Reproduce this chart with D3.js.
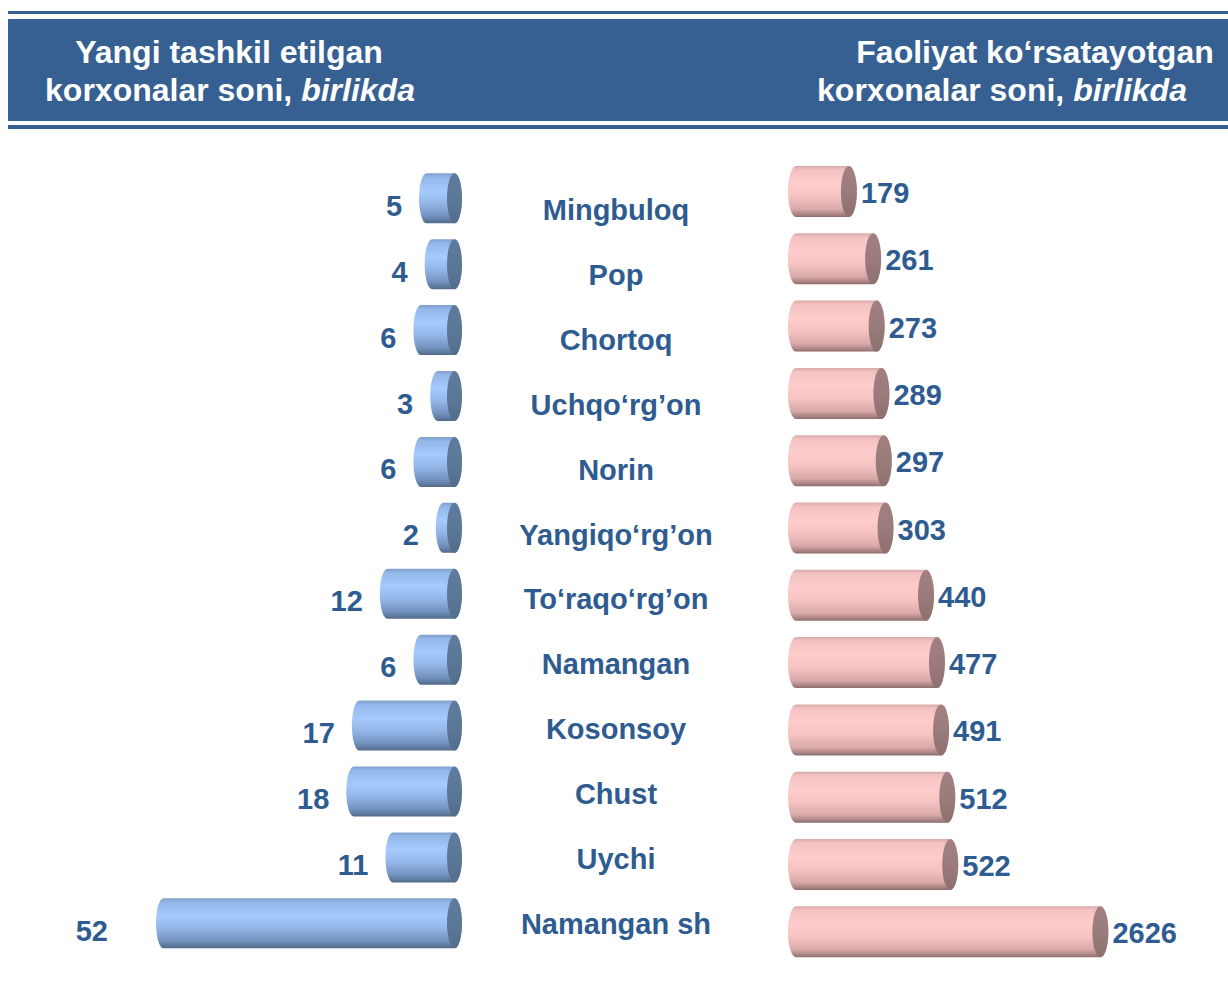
<!DOCTYPE html>
<html>
<head>
<meta charset="utf-8">
<script src="https://cdn.jsdelivr.net/npm/d3@7"></script>
<style>
  html, body { margin: 0; padding: 0; background: #ffffff; }
  svg { display: block; font-family: "Liberation Sans", Arial, sans-serif; }
</style>
</head>
<body>
<svg id="chart" width="1228" height="988"></svg>
<script>
// Districts of Namangan region
const districts = ["Mingbuloq", "Pop", "Chortoq", "Uchqo‘rg’on", "Norin", "Yangiqo‘rg’on",
  "To‘raqo‘rg’on", "Namangan", "Kosonsoy", "Chust", "Uychi", "Namangan sh"];
// Newly established enterprises, units
const newEnterprises = [5, 4, 6, 3, 6, 2, 12, 6, 17, 18, 11, 52];
// Operating enterprises, units
const activeEnterprises = [179, 261, 273, 289, 297, 303, 440, 477, 491, 512, 522, 2626];
// Header titles: line 1, plain part of line 2, italic part of line 2
const leftTitle = ["Yangi tashkil etilgan", "korxonalar soni, ", "birlikda"];
const rightTitle = ["Faoliyat ko‘rsatayotgan", "korxonalar soni, ", "birlikda"];

const svg = d3.select("#chart");
const W = 1228;
const navy = "#366092";
const labelColor = "#2F5C90";

// ---------- header band ----------
svg.append("rect").attr("x", 8).attr("y", 11).attr("width", W - 8).attr("height", 3).attr("fill", navy);
svg.append("rect").attr("x", 8).attr("y", 19).attr("width", W - 8).attr("height", 102).attr("fill", navy);
svg.append("rect").attr("x", 8).attr("y", 125).attr("width", W - 8).attr("height", 4).attr("fill", navy);

function title(lines, cx1, cx2) {
  const g = svg.append("g").attr("fill", "#ffffff").attr("font-weight", "bold").attr("font-size", 32);
  g.append("text").attr("x", cx1).attr("y", 63).attr("text-anchor", "middle").text(lines[0]);
  const t = g.append("text").attr("x", cx2).attr("y", 101).attr("text-anchor", "middle");
  t.append("tspan").text(lines[1]);
  t.append("tspan").attr("font-style", "italic").text(lines[2]);
}
title(leftTitle, 229, 230);
title(rightTitle, 1035, 1002);

// ---------- gradients ----------
const defs = svg.append("defs");
function vGrad(id, stops) {
  const g = defs.append("linearGradient").attr("id", id).attr("x1", 0).attr("y1", 0).attr("x2", 0).attr("y2", 1);
  stops.forEach(([o, c]) => g.append("stop").attr("offset", o).attr("stop-color", c));
}
vGrad("blueBody", [[0, "#7F9FCB"], [0.08, "#93B7E8"], [0.35, "#A5CAFC"], [0.6, "#93B7E8"], [0.85, "#7393C0"], [0.96, "#5B7699"], [1, "#4F6789"]]);
vGrad("blueCap", [[0, "#5E7B9E"], [0.5, "#5C7898"], [1, "#536D8C"]]);
vGrad("pinkBody", [[0, "#D8AAAA"], [0.08, "#F4C2C2"], [0.35, "#FFCCCC"], [0.6, "#F6C3C3"], [0.85, "#D9A8A8"], [0.96, "#A57F7F"], [1, "#8C6B6B"]]);
vGrad("pinkCap", [[0, "#A08080"], [0.5, "#9B7B7B"], [1, "#8E7070"]]);

function cylinderPath(x0, x1, cy, h, rx) {
  const ry = h / 2;
  return `M${x1},${cy - ry} L${x0},${cy - ry} A${rx},${ry} 0 0 0 ${x0},${cy + ry} ` +
         `L${x1},${cy + ry} A${rx},${ry} 0 0 0 ${x1},${cy - ry} Z`;
}

// ---------- left panel: new enterprises ----------
const rxL = 7.5, hL = 50;
const leftBase = 462;                     // right end of the blue cylinders
const xLeft = d3.scaleLinear().domain([0, 52]).range([0, 291]);
const yLeft = d3.scalePoint().domain(districts).range([198.3, 923.3]);
const leftData = districts.map((name, i) => ({ name, v: newEnterprises[i] }));
const leftMax = d3.max(newEnterprises);

const gl = svg.append("g");
leftData.forEach(d => {
  const x1 = leftBase - rxL;
  const x0 = x1 - xLeft(d.v);
  const cy = yLeft(d.name);
  gl.append("path").attr("d", cylinderPath(x0, x1, cy, hL, rxL)).attr("fill", "url(#blueBody)");
  gl.append("ellipse").attr("cx", x1).attr("cy", cy).attr("rx", rxL).attr("ry", hL / 2).attr("fill", "url(#blueCap)");
  // the longest bar's label sits at the panel's outer margin
  const lx = d.v === leftMax ? 108 : x0 - rxL - 17;
  gl.append("text").attr("x", lx).attr("y", cy + 17.5).attr("text-anchor", "end")
    .attr("font-size", 29).attr("font-weight", "bold").attr("fill", labelColor).text(d.v);
});

// ---------- centre: district names ----------
const yName = d3.scalePoint().domain(districts).range([220, 934]);
svg.append("g").selectAll("text").data(districts).join("text")
  .attr("x", 616).attr("y", d => yName(d)).attr("text-anchor", "middle")
  .attr("font-size", 29).attr("font-weight", "bold").attr("fill", labelColor).text(d => d);

// ---------- right panel: operating enterprises ----------
const rxR = 8, hR = 51;
const rightBase = 788;                    // left end of the pink cylinders
const xRight = d3.scaleLinear().domain([0, 1030]).range([0, 304.4]).clamp(true);
const yRight = d3.scalePoint().domain(districts).range([191.5, 931.8]);
const rightData = districts.map((name, i) => ({ name, v: activeEnterprises[i] }));

const gr = svg.append("g");
rightData.forEach(d => {
  const x0 = rightBase + rxR;
  const x1 = x0 + xRight(d.v);
  const cy = yRight(d.name);
  gr.append("path").attr("d", cylinderPath(x0, x1, cy, hR, rxR)).attr("fill", "url(#pinkBody)");
  gr.append("ellipse").attr("cx", x1).attr("cy", cy).attr("rx", rxR).attr("ry", hR / 2).attr("fill", "url(#pinkCap)");
  gr.append("text").attr("x", x1 + rxR + 4).attr("y", cy + 11.5).attr("text-anchor", "start")
    .attr("font-size", 29).attr("font-weight", "bold").attr("fill", labelColor).text(d.v);
});
</script>
</body>
</html>
